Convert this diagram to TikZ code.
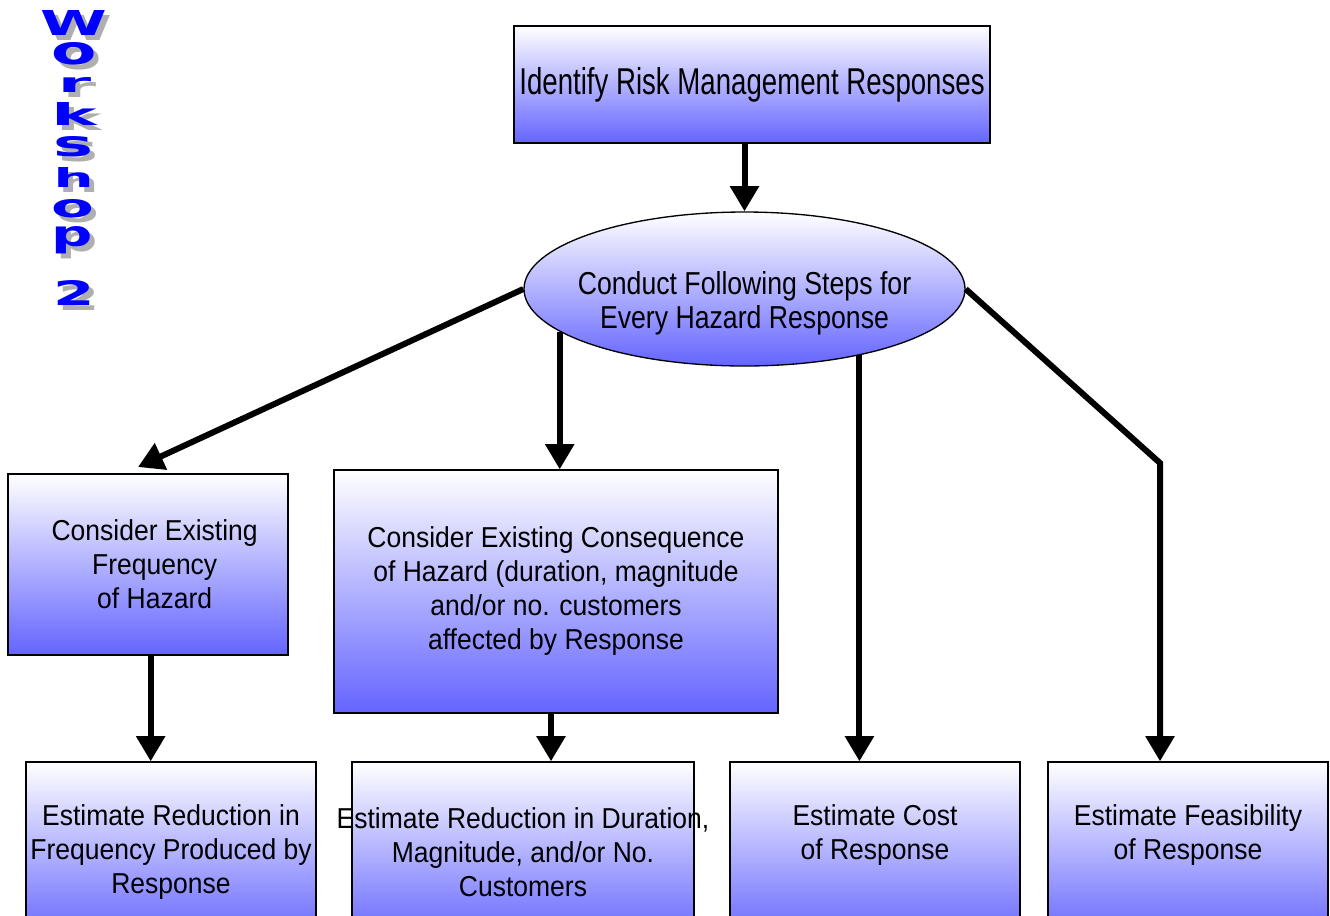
\documentclass[tikz,border=0pt]{standalone}
\usepackage{fontspec}
\setmainfont{Liberation Sans}
\newfontfamily\topfont[FakeStretch=0.74]{Liberation Sans}
\newfontfamily\ellfont[FakeStretch=0.84]{Liberation Sans}
\newfontfamily\boxfont[FakeStretch=0.92]{Liberation Sans}
\newfontfamily\wsfont{DejaVu Sans}
\usetikzlibrary{shapes.geometric,arrows.meta}
\definecolor{boxblue}{RGB}{100,100,255}
\definecolor{wsblue}{RGB}{0,0,255}
\definecolor{wsshadow}{RGB}{175,175,175}
\newcommand{\wsletter}[6]{%
  \node[wsl] (#1) at (#2,#3) {\rlap{\smash{\hspace*{3.75pt}\raisebox{-3.75pt}{\color{wsshadow}\resizebox{#4}{#5}{\wsfont\bfseries #6}}}}\color{wsblue}\resizebox{#4}{#5}{\wsfont\bfseries #6}};
}
\begin{document}
\begin{tikzpicture}[x=0.75pt,y=-0.75pt,
  box/.style={draw=black, line width=1pt, top color=white, bottom color=boxblue, inner sep=0pt, align=center},
  bfont/.style={font=\boxfont\fontsize{21.6pt}{25.5pt}\selectfont},
  arr/.style={line width=4.5pt, -{Triangle[length=19pt,width=21pt]}},
  wsl/.style={inner sep=0pt}]
\useasboundingbox (0,0) rectangle (1330,915);
\fill[white] (0,0) rectangle (1330,915);
\clip (0,0) rectangle (1330,915);

% Workshop 2
\wsletter{l1}{73.5}{22.5}{50pt}{18.75pt}{W}
\wsletter{l2}{74}{54}{34pt}{16.5pt}{o}
\wsletter{l3}{74.5}{85}{25pt}{11.25pt}{r}
\wsletter{l4}{74}{113.5}{34pt}{17.25pt}{k}
\wsletter{l5}{73.5}{147}{30pt}{15pt}{s}
\wsletter{l6}{73.5}{177}{30pt}{15pt}{h}
\wsletter{l7}{73}{209}{32pt}{13.5pt}{o}
\wsletter{l8}{72.5}{240}{31pt}{15pt}{p}
\wsletter{l9}{74}{292.5}{31pt}{18.75pt}{2}

% nodes
\node[box, minimum width=357pt, minimum height=87.75pt, font=\topfont\fontsize{28pt}{32pt}\selectfont] (top) at (752,84.5) {Identify Risk Management Responses};

\node[ellipse, draw=black, line width=1pt, top color=white, bottom color=boxblue, minimum width=330.75pt, minimum height=115.5pt, inner sep=0pt,
  label={[font=\ellfont\fontsize{23.8pt}{25.5pt}\selectfont, align=center, yshift=-10.5pt]center:Conduct Following Steps for\\Every Hazard Response}] (ell) at (744.5,289) {};

\node[box, minimum width=210pt, minimum height=135.75pt,
  label={[bfont, align=center, xshift=5pt]center:Consider Existing\\Frequency\\of Hazard}] (b1) at (148,564.5) {};
\node[box, bfont, minimum width=333pt, minimum height=182.25pt] (b2) at (556,591.5) {Consider Existing Consequence\\of Hazard (duration, magnitude\\and/or no. customers\\affected by Response};
\node[box, bfont, minimum width=217.5pt, minimum height=135pt] (b3) at (171,852) {Estimate Reduction in\\Frequency Produced by\\Response};
\node[box, minimum width=256.5pt, minimum height=135pt,
  label={[bfont, align=center]center:{Estimate Reduction in Duration,\\Magnitude, and/or No.\\Customers}}] (b4) at (523,852) {};
\node[box, minimum width=217.5pt, minimum height=135pt,
  label={[bfont, align=center, yshift=12.75pt]center:Estimate Cost\\of Response}] (b5) at (875,852) {};
\node[box, minimum width=210pt, minimum height=135pt,
  label={[bfont, align=center, yshift=12.75pt]center:Estimate Feasibility\\of Response}] (b6) at (1188,852) {};

% connectors
\coordinate (t1) at (138,467);
\coordinate (bend) at (1160,463);
\draw[arr] (top.south -| ell.north) -- (ell.north);
\draw[arr] (ell.west) -- (t1);
\draw[arr] (ell.193) -- (ell.193 |- b2.north);
\draw[arr] (ell.330) -- (ell.330 |- b5.north);
\draw[arr] (ell.east) -- (bend) -- (bend |- b6.north);
\draw[arr] ([xshift=2pt]b1.south) -- ([xshift=2pt]b1.south |- b3.north);
\draw[arr] ([xshift=-3.75pt]b2.south) -- ([xshift=-3.75pt]b2.south |- b4.north);
\end{tikzpicture}
\end{document}
